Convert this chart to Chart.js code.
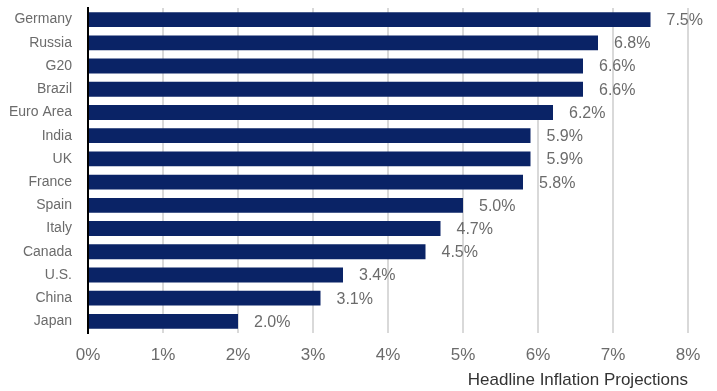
<!DOCTYPE html>
<html>
<head>
<meta charset="utf-8">
<script src="https://cdn.jsdelivr.net/npm/chart.js@4"></script>
<style>
  html, body { margin: 0; padding: 0; background: #fff; }
  #wrap { width: 717px; height: 391px; }
</style>
</head>
<body>
<div id="wrap"><canvas id="inflation-chart"></canvas></div>
<script>
const countries = ['Germany', 'Russia', 'G20', 'Brazil', 'Euro Area', 'India', 'UK', 'France', 'Spain', 'Italy', 'Canada', 'U.S.', 'China', 'Japan'];
const inflation = [7.5, 6.8, 6.6, 6.6, 6.2, 5.9, 5.9, 5.8, 5.0, 4.7, 4.5, 3.4, 3.1, 2.0];
const axisTitle = 'Headline Inflation Projections';

const FONT = '"Liberation Sans", Arial, sans-serif';

// value labels to the right of each bar
const valueLabels = {
    id: 'valueLabels',
    afterDatasetsDraw(chart) {
        const ctx = chart.ctx;
        const meta = chart.getDatasetMeta(0);
        ctx.save();
        ctx.font = '16px ' + FONT;
        ctx.fillStyle = '#6b6b6b';
        ctx.textAlign = 'left';
        ctx.textBaseline = 'middle';
        meta.data.forEach((bar, i) => {
            ctx.fillText(inflation[i].toFixed(1) + '%', bar.x + 16, bar.y + 1);
        });
        ctx.restore();
    }
};

const ctx = document.getElementById('inflation-chart').getContext('2d');
new Chart(ctx, {
    type: 'bar',
    data: {
        labels: countries,
        datasets: [{
            data: inflation,
            backgroundColor: '#0a2366',
            borderWidth: 0,
            categoryPercentage: 1,
            barPercentage: 0.64
        }]
    },
    options: {
        indexAxis: 'y',
        responsive: true,
        maintainAspectRatio: false,
        animation: false,
        layout: { padding: { top: 8, right: 29, bottom: 0, left: 0 } },
        plugins: {
            legend: { display: false },
            tooltip: { enabled: false }
        },
        scales: {
            x: {
                min: 0,
                max: 8,
                ticks: {
                    stepSize: 1,
                    padding: 12,
                    color: '#6b6b6b',
                    font: { family: FONT, size: 17 },
                    callback: v => v + '%'
                },
                grid: { color: '#d9d9d9', lineWidth: 2, drawTicks: false },
                border: { display: false },
                title: {
                    display: true,
                    text: axisTitle,
                    align: 'end',
                    color: '#333',
                    font: { family: FONT, size: 17 },
                    padding: { top: 5, bottom: 0 }
                },
                afterFit(scale) {
                    scale.height = 58;
                }
            },
            y: {
                ticks: {
                    padding: 16,
                    color: '#6b6b6b',
                    font: { family: FONT, size: 14 }
                },
                grid: { display: false, drawTicks: false },
                border: { display: true, color: '#000', width: 2 },
                afterFit(scale) {
                    scale.width = 88;
                    scale.paddingTop = 0;
                    scale.paddingBottom = 0;
                }
            }
        }
    },
    plugins: [valueLabels]
});
</script>
</body>
</html>
